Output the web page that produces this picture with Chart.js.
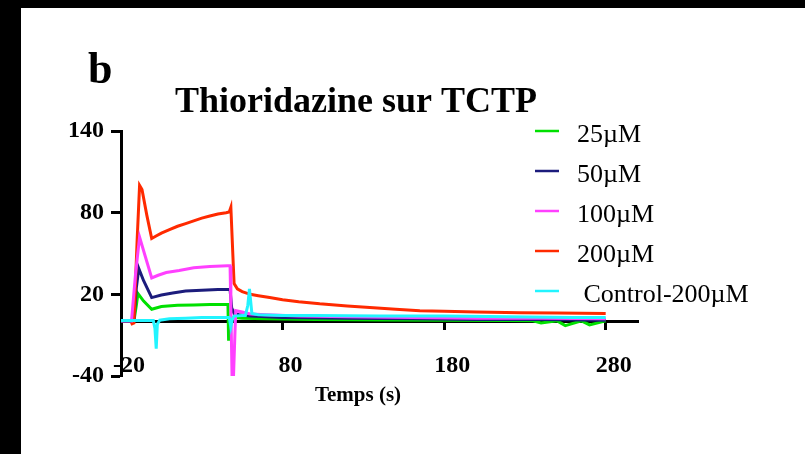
<!DOCTYPE html>
<html>
<head>
<meta charset="utf-8">
<script src="https://cdn.jsdelivr.net/npm/chart.js@4.4.1/dist/chart.umd.min.js"></script>
<style>
  html, body { margin: 0; padding: 0; background: #000; overflow: hidden; width: 805px; height: 454px; }
  #wrap { position: absolute; left: 21px; top: 8px; width: 784px; height: 446px; background: #fff; }
</style>
</head>
<body>
<div id="wrap"><canvas id="spr"></canvas></div>
<script>
// =========================
// DATA (time in s, response)
// =========================
const panelLetter = "b";
const chartTitle = "Thioridazine sur TCTP";
const xTitle = "Temps (s)";

const xTicks = [-20, 80, 180, 280];
const yTicks = [-40, 20, 80, 140];

const labels = ["25\u00b5M", "50\u00b5M", "100\u00b5M", "200\u00b5M", " Control-200\u00b5M"];
const colors = ["#00e000", "#1c1c7c", "#ff40ff", "#ff2a00", "#22f4ff"];

const t25 = [-20, -12, -10.5, -9.5, -6, -1, 5, 15, 25, 35, 45, 46.2, 46.6, 47.4, 50, 55, 70, 100, 140, 180, 220, 235, 240, 250, 255, 265, 270, 280];
const v25 = [0.5, 0.5, 12, 20.5, 15, 9, 11, 12, 12.2, 12.5, 12.5, 12.5, -14, 1.5, 3, 2.5, 2, 1.5, 1.2, 1, 0.8, 0.5, -1, 0.5, -3, 0.5, -2.5, 0.5];

const t50 = [-20, -12, -10.5, -9, -6, -1, 5, 12, 20, 30, 40, 47.5, 48.5, 50, 53, 60, 80, 120, 160, 200, 240, 280];
const v50 = [0.5, 0.5, 25, 39, 30, 17.6, 19.5, 21, 22.5, 23, 23.5, 23.5, 10, 6, 5, 4, 3, 2.5, 2, 1.5, 1.5, 1];

const t100 = [-20, -13.5, -11, -8.5, -5, -1, 3, 8, 16, 25, 35, 46, 47.5, 48, 48.8, 49.5, 51, 55, 60, 70, 90, 120, 160, 200, 240, 280];
const v100 = [0.5, 0.5, 35, 62, 48, 32, 34, 36, 37.5, 39.5, 40.5, 41, 41, 10, -45, -45, 8, 7, 5.5, 5, 4, 3.5, 3, 2.5, 2.5, 2];

const t200 = [-14, -12, -10, -8.5, -7, -4, -1, 2, 5, 10, 15, 20, 25, 30, 35, 40, 45, 47, 48, 49.2, 50, 52, 55, 60, 65, 72, 80, 90, 103, 120, 134, 150, 165, 180, 200, 227, 250, 280];
const v200 = [-2, -1, 60, 100, 97, 78, 61, 63, 65, 67.5, 70, 72, 74, 76, 77.5, 79, 80, 80.5, 84, 50, 28, 24, 22, 20, 19, 17.6, 16, 14.5, 13, 11.5, 10.3, 9, 8, 7.5, 7, 6.5, 6.3, 6];

const tCtl = [-20, -5, 0, 1, 1.8, 2.5, 4, 10, 20, 30, 40, 47, 48, 49, 50, 55, 57, 58.5, 59.5, 61, 65, 80, 100, 140, 180, 220, 260, 280];
const vCtl = [0.7, 0.7, 0.8, -5, -20, -2, 1, 2, 2.5, 3, 3, 3, -4, 2, 4, 4.5, 4.5, 12, 24, 6, 5, 4.5, 4.5, 4, 4, 3.5, 3, 3];

const seriesTimes = [t25, t50, t100, t200, tCtl];
const seriesValues = [v25, v50, v100, v200, vCtl];
const drawOrder = [4, 3, 1, 2, 0];

const serif = "'Liberation Serif', 'Times New Roman', serif";

// =========================
// TITLE, PANEL LETTER, LEGEND
// =========================
const annotations = {
  id: "annotations",
  afterDraw(chart) {
    const ctx = chart.ctx;
    ctx.save();
    ctx.fillStyle = "#000";
    ctx.textBaseline = "alphabetic";
    ctx.textAlign = "left";
    ctx.font = "bold 44px " + serif;
    ctx.fillText(panelLetter, 67, 75);

    ctx.textAlign = "center";
    ctx.font = "bold 36px " + serif;
    ctx.fillText(chartTitle, 335, 104);

    ctx.textBaseline = "middle";
    ctx.font = "bold 21px " + serif;
    ctx.fillText(xTitle, 337, 388);

    ctx.textAlign = "left";
    ctx.font = "26px " + serif;
    chart.data.datasets.forEach((ds, i) => {
      const y = 123 + i * 40;
      ctx.strokeStyle = ds.borderColor;
      ctx.lineWidth = 2.5;
      ctx.beginPath();
      ctx.moveTo(514, y);
      ctx.lineTo(538, y);
      ctx.stroke();
      ctx.fillText(ds.label, 556, y + 4);
    });
    ctx.restore();
  }
};

// =========================
// CHART
// =========================
const datasets = labels.map((label, i) => ({
  label: label,
  data: seriesTimes[i].map((x, j) => ({ x: x, y: seriesValues[i][j] })),
  borderColor: colors[i],
  backgroundColor: colors[i],
  borderWidth: 3,
  pointRadius: 0,
  tension: 0,
  order: drawOrder[i]
}));

const tickFont = { family: serif, size: 24, weight: "bold" };

new Chart(document.getElementById("spr"), {
  type: "line",
  data: { datasets: datasets },
  options: {
    responsive: true,
    maintainAspectRatio: false,
    animation: false,
    layout: { padding: { left: 0, top: 123, right: 167, bottom: 78 } },
    plugins: {
      legend: { display: false },
      title: { display: false },
      tooltip: { enabled: false }
    },
    scales: {
      x: {
        type: "linear",
        position: { y: 0 },
        min: -20,
        max: 300,
        afterBuildTicks: s => { s.ticks = xTicks.map(v => ({ value: v })); },
        border: { display: true, color: "#000", width: 3 },
        grid: { drawOnChartArea: false, drawTicks: true, tickLength: 7, tickWidth: 3, tickColor: "#000" },
        ticks: { color: "#000", font: tickFont, padding: 23, labelOffset: 8, maxRotation: 0, autoSkip: false }
      },
      y: {
        type: "linear",
        position: "left",
        min: -40,
        max: 140,
        afterBuildTicks: s => { s.ticks = yTicks.map(v => ({ value: v })); },
        afterFit: s => { s.width = 100; },
        border: { display: true, color: "#000", width: 3 },
        grid: { drawOnChartArea: false, drawTicks: true, tickLength: 10, tickWidth: 3, tickColor: "#000" },
        ticks: { color: "#000", font: tickFont, padding: 7, autoSkip: false }
      }
    }
  },
  plugins: [annotations]
});
</script>
</body>
</html>
